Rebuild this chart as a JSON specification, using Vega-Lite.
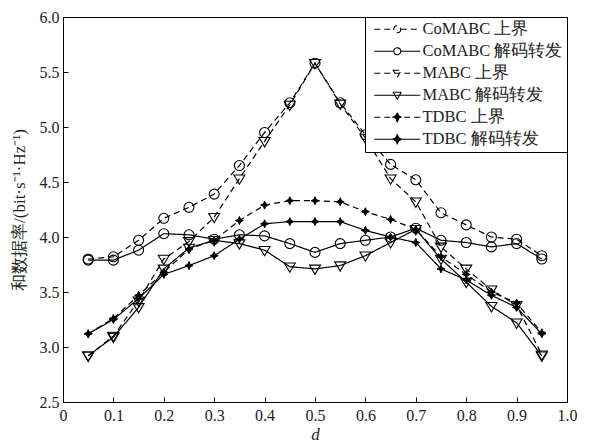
{
  "$schema": "https://vega.github.io/schema/vega-lite/v6.json",
  "width": 504,
  "height": 385,
  "autosize": "none",
  "padding": {"left": 63, "top": 17, "right": 22, "bottom": 41},
  "background": "white",
  "config": {
    "view": {"stroke": "black", "strokeWidth": 1},
    "axis": {
      "grid": false,
      "labelFont": "Liberation Serif",
      "labelFontSize": 16,
      "labelColor": "#222",
      "titleFont": "Liberation Serif",
      "titleFontWeight": "normal",
      "titleColor": "#222",
      "domainColor": "black",
      "tickColor": "black",
      "tickSize": -5,
      "labelPadding": 9,
      "labelOverlap": false,
      "labelFlush": false
    }
  },
  "data": {
    "values": [
      {"d": 0.05, "v": 3.80, "s": "CoMABC 上界"},
      {"d": 0.10, "v": 3.82, "s": "CoMABC 上界"},
      {"d": 0.15, "v": 3.97, "s": "CoMABC 上界"},
      {"d": 0.20, "v": 4.17, "s": "CoMABC 上界"},
      {"d": 0.25, "v": 4.27, "s": "CoMABC 上界"},
      {"d": 0.30, "v": 4.39, "s": "CoMABC 上界"},
      {"d": 0.35, "v": 4.65, "s": "CoMABC 上界"},
      {"d": 0.40, "v": 4.95, "s": "CoMABC 上界"},
      {"d": 0.45, "v": 5.22, "s": "CoMABC 上界"},
      {"d": 0.50, "v": 5.58, "s": "CoMABC 上界"},
      {"d": 0.55, "v": 5.22, "s": "CoMABC 上界"},
      {"d": 0.60, "v": 4.93, "s": "CoMABC 上界"},
      {"d": 0.65, "v": 4.66, "s": "CoMABC 上界"},
      {"d": 0.70, "v": 4.52, "s": "CoMABC 上界"},
      {"d": 0.75, "v": 4.22, "s": "CoMABC 上界"},
      {"d": 0.80, "v": 4.11, "s": "CoMABC 上界"},
      {"d": 0.85, "v": 4.00, "s": "CoMABC 上界"},
      {"d": 0.90, "v": 3.98, "s": "CoMABC 上界"},
      {"d": 0.95, "v": 3.83, "s": "CoMABC 上界"},
      {"d": 0.05, "v": 3.79, "s": "CoMABC 解码转发"},
      {"d": 0.10, "v": 3.79, "s": "CoMABC 解码转发"},
      {"d": 0.15, "v": 3.88, "s": "CoMABC 解码转发"},
      {"d": 0.20, "v": 4.03, "s": "CoMABC 解码转发"},
      {"d": 0.25, "v": 4.02, "s": "CoMABC 解码转发"},
      {"d": 0.30, "v": 3.98, "s": "CoMABC 解码转发"},
      {"d": 0.35, "v": 4.02, "s": "CoMABC 解码转发"},
      {"d": 0.40, "v": 4.01, "s": "CoMABC 解码转发"},
      {"d": 0.45, "v": 3.94, "s": "CoMABC 解码转发"},
      {"d": 0.50, "v": 3.86, "s": "CoMABC 解码转发"},
      {"d": 0.55, "v": 3.94, "s": "CoMABC 解码转发"},
      {"d": 0.60, "v": 3.97, "s": "CoMABC 解码转发"},
      {"d": 0.65, "v": 4.00, "s": "CoMABC 解码转发"},
      {"d": 0.70, "v": 4.08, "s": "CoMABC 解码转发"},
      {"d": 0.75, "v": 3.97, "s": "CoMABC 解码转发"},
      {"d": 0.80, "v": 3.95, "s": "CoMABC 解码转发"},
      {"d": 0.85, "v": 3.91, "s": "CoMABC 解码转发"},
      {"d": 0.90, "v": 3.94, "s": "CoMABC 解码转发"},
      {"d": 0.95, "v": 3.80, "s": "CoMABC 解码转发"},
      {"d": 0.05, "v": 2.92, "s": "MABC 上界"},
      {"d": 0.10, "v": 3.10, "s": "MABC 上界"},
      {"d": 0.15, "v": 3.42, "s": "MABC 上界"},
      {"d": 0.20, "v": 3.80, "s": "MABC 上界"},
      {"d": 0.25, "v": 3.96, "s": "MABC 上界"},
      {"d": 0.30, "v": 4.18, "s": "MABC 上界"},
      {"d": 0.35, "v": 4.53, "s": "MABC 上界"},
      {"d": 0.40, "v": 4.87, "s": "MABC 上界"},
      {"d": 0.45, "v": 5.20, "s": "MABC 上界"},
      {"d": 0.50, "v": 5.58, "s": "MABC 上界"},
      {"d": 0.55, "v": 5.21, "s": "MABC 上界"},
      {"d": 0.60, "v": 4.90, "s": "MABC 上界"},
      {"d": 0.65, "v": 4.53, "s": "MABC 上界"},
      {"d": 0.70, "v": 4.32, "s": "MABC 上界"},
      {"d": 0.75, "v": 3.91, "s": "MABC 上界"},
      {"d": 0.80, "v": 3.71, "s": "MABC 上界"},
      {"d": 0.85, "v": 3.52, "s": "MABC 上界"},
      {"d": 0.90, "v": 3.38, "s": "MABC 上界"},
      {"d": 0.95, "v": 2.93, "s": "MABC 上界"},
      {"d": 0.05, "v": 2.92, "s": "MABC 解码转发"},
      {"d": 0.10, "v": 3.09, "s": "MABC 解码转发"},
      {"d": 0.15, "v": 3.36, "s": "MABC 解码转发"},
      {"d": 0.20, "v": 3.71, "s": "MABC 解码转发"},
      {"d": 0.25, "v": 3.90, "s": "MABC 解码转发"},
      {"d": 0.30, "v": 3.97, "s": "MABC 解码转发"},
      {"d": 0.35, "v": 3.94, "s": "MABC 解码转发"},
      {"d": 0.40, "v": 3.88, "s": "MABC 解码转发"},
      {"d": 0.45, "v": 3.73, "s": "MABC 解码转发"},
      {"d": 0.50, "v": 3.71, "s": "MABC 解码转发"},
      {"d": 0.55, "v": 3.74, "s": "MABC 解码转发"},
      {"d": 0.60, "v": 3.83, "s": "MABC 解码转发"},
      {"d": 0.65, "v": 3.95, "s": "MABC 解码转发"},
      {"d": 0.70, "v": 4.07, "s": "MABC 解码转发"},
      {"d": 0.75, "v": 3.80, "s": "MABC 解码转发"},
      {"d": 0.80, "v": 3.59, "s": "MABC 解码转发"},
      {"d": 0.85, "v": 3.37, "s": "MABC 解码转发"},
      {"d": 0.90, "v": 3.22, "s": "MABC 解码转发"},
      {"d": 0.95, "v": 2.92, "s": "MABC 解码转发"},
      {"d": 0.05, "v": 3.12, "s": "TDBC 上界"},
      {"d": 0.10, "v": 3.26, "s": "TDBC 上界"},
      {"d": 0.15, "v": 3.47, "s": "TDBC 上界"},
      {"d": 0.20, "v": 3.68, "s": "TDBC 上界"},
      {"d": 0.25, "v": 3.89, "s": "TDBC 上界"},
      {"d": 0.30, "v": 3.97, "s": "TDBC 上界"},
      {"d": 0.35, "v": 4.15, "s": "TDBC 上界"},
      {"d": 0.40, "v": 4.29, "s": "TDBC 上界"},
      {"d": 0.45, "v": 4.33, "s": "TDBC 上界"},
      {"d": 0.50, "v": 4.33, "s": "TDBC 上界"},
      {"d": 0.55, "v": 4.32, "s": "TDBC 上界"},
      {"d": 0.60, "v": 4.23, "s": "TDBC 上界"},
      {"d": 0.65, "v": 4.16, "s": "TDBC 上界"},
      {"d": 0.70, "v": 4.07, "s": "TDBC 上界"},
      {"d": 0.75, "v": 3.82, "s": "TDBC 上界"},
      {"d": 0.80, "v": 3.66, "s": "TDBC 上界"},
      {"d": 0.85, "v": 3.50, "s": "TDBC 上界"},
      {"d": 0.90, "v": 3.40, "s": "TDBC 上界"},
      {"d": 0.95, "v": 3.13, "s": "TDBC 上界"},
      {"d": 0.05, "v": 3.12, "s": "TDBC 解码转发"},
      {"d": 0.10, "v": 3.25, "s": "TDBC 解码转发"},
      {"d": 0.15, "v": 3.44, "s": "TDBC 解码转发"},
      {"d": 0.20, "v": 3.66, "s": "TDBC 解码转发"},
      {"d": 0.25, "v": 3.74, "s": "TDBC 解码转发"},
      {"d": 0.30, "v": 3.83, "s": "TDBC 解码转发"},
      {"d": 0.35, "v": 3.98, "s": "TDBC 解码转发"},
      {"d": 0.40, "v": 4.12, "s": "TDBC 解码转发"},
      {"d": 0.45, "v": 4.14, "s": "TDBC 解码转发"},
      {"d": 0.50, "v": 4.14, "s": "TDBC 解码转发"},
      {"d": 0.55, "v": 4.14, "s": "TDBC 解码转发"},
      {"d": 0.60, "v": 4.06, "s": "TDBC 解码转发"},
      {"d": 0.65, "v": 4.00, "s": "TDBC 解码转发"},
      {"d": 0.70, "v": 3.95, "s": "TDBC 解码转发"},
      {"d": 0.75, "v": 3.71, "s": "TDBC 解码转发"},
      {"d": 0.80, "v": 3.61, "s": "TDBC 解码转发"},
      {"d": 0.85, "v": 3.47, "s": "TDBC 解码转发"},
      {"d": 0.90, "v": 3.36, "s": "TDBC 解码转发"},
      {"d": 0.95, "v": 3.12, "s": "TDBC 解码转发"}
    ]
  },
  "encoding": {
    "x": {
      "field": "d",
      "type": "quantitative",
      "scale": {"domain": [0, 1], "nice": false, "zero": false},
      "axis": {
        "title": "d",
        "titleFontStyle": "italic",
        "titleFontSize": 17,
        "titlePadding": 3,
        "labelPadding": 10,
        "values": [0, 0.1, 0.2, 0.3, 0.4, 0.5, 0.6, 0.7, 0.8, 0.9, 1.0],
        "labelExpr": "datum.value == 0 ? '0' : format(datum.value, '.1f')"
      }
    },
    "y": {
      "field": "v",
      "type": "quantitative",
      "scale": {"domain": [2.5, 6.0], "nice": false, "zero": false},
      "axis": {
        "title": "和数据率/(bit·s⁻¹·Hz⁻¹)",
        "titleFontSize": 17,
        "titlePadding": 11,
        "values": [2.5, 3.0, 3.5, 4.0, 4.5, 5.0, 5.5, 6.0],
        "format": ".1f"
      }
    }
  },
  "layer": [
    {
      "mark": {"type": "line", "color": "black", "strokeWidth": 1.2},
      "encoding": {
        "strokeDash": {
          "field": "s",
          "type": "nominal",
          "scale": {
            "domain": ["CoMABC 上界", "CoMABC 解码转发", "MABC 上界", "MABC 解码转发", "TDBC 上界", "TDBC 解码转发"],
            "range": [[6, 4], [1, 0], [6, 4], [1, 0], [6, 4], [1, 0]]
          },
          "legend": {
            "title": null,
            "orient": "top-right",
            "offset": 0,
            "strokeColor": "black",
            "fillColor": "white",
            "padding": 4,
            "rowPadding": 5,
            "labelFont": "Liberation Serif",
            "labelFontSize": 16.5,
            "labelColor": "#222",
            "symbolSize": 100,
            "symbolOffset": 20,
            "labelOffset": 17,
            "symbolStrokeColor": "black",
            "symbolStrokeWidth": 1,
            "encode": {
              "symbols": {
                "update": {
                  "shape": {"signal": "indexof(datum.value,'CoMABC')>=0 ? 'M-4.6,0H-0.7M0.7,0H4.6M0.7,0A0.7,0.7,0,1,1,-0.7,0A0.7,0.7,0,1,1,0.7,0' : indexof(datum.value,'MABC')>=0 ? 'M-4.6,0H4.6M-0.8,-0.6L0.8,-0.6L0,0.8Z' : 'M-4.6,0H4.6M0,-0.9L0.3,-0.3L0.9,0L0.3,0.3L0,0.9L-0.3,0.3L-0.9,0L-0.3,-0.3Z'"},
                  "fill": {"signal": "indexof(datum.value,'TDBC')>=0 ? 'black' : 'transparent'"},
                  "stroke": {"value": "black"},
                  "strokeWidth": {"value": 1.1}
                }
              }
            }
          }
        }
      }
    },
    {
      "transform": [{"filter": {"field": "s", "oneOf": ["CoMABC 上界", "CoMABC 解码转发"]}}],
      "mark": {"type": "point", "shape": "M1,0A1,1,0,1,1,-1,0A1,1,0,1,1,1,0Z", "stroke": "black", "fill": "transparent", "strokeWidth": 1.1, "size": 100, "opacity": 1},
      "encoding": {"detail": {"field": "s", "type": "nominal"}}
    },
    {
      "transform": [{"filter": {"field": "s", "oneOf": ["MABC 上界", "MABC 解码转发"]}}],
      "mark": {"type": "point", "shape": "M-1.1,-0.75L1.1,-0.75L0,1.1Z", "stroke": "black", "fill": "transparent", "strokeWidth": 1.1, "size": 100, "opacity": 1},
      "encoding": {"detail": {"field": "s", "type": "nominal"}}
    },
    {
      "transform": [{"filter": {"field": "s", "oneOf": ["TDBC 上界", "TDBC 解码转发"]}}],
      "mark": {"type": "point", "shape": "M0,-0.8L0.25,-0.25L0.8,0L0.25,0.25L0,0.8L-0.25,0.25L-0.8,0L-0.25,-0.25Z", "stroke": "black", "fill": "black", "strokeWidth": 1, "size": 100, "opacity": 1},
      "encoding": {"detail": {"field": "s", "type": "nominal"}}
    }
  ]
}
